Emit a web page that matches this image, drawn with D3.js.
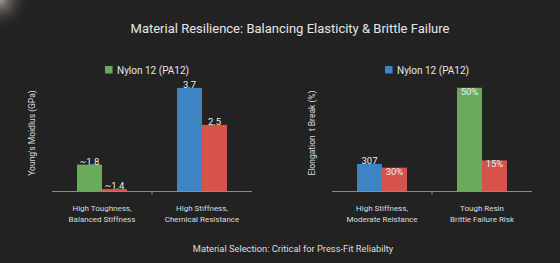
<!DOCTYPE html>
<html>
<head>
<meta charset="utf-8">
<script src="https://cdn.jsdelivr.net/npm/d3@7"></script>
<style>
body{margin:0;background:#222222;}
text{font-family:Roboto,"Noto Sans",sans-serif;}
</style>
</head>
<body>
<script>
// data
var leftCategories = [['High Toughness,','Balanced Stiffness'],['High Stiffness,','Chemical Resistance']];
var leftValues = [[0.96,0.09],[3.7,2.38]];
var leftLabels = [['~1.8','~1.4'],['3.7','2.5']];
var leftColors = [['#6aaa5c','#d6524a'],['#3e83c4','#d6524a']];
var leftLegend = 'Nylon 12 (PA12)';
var leftYTitle = "Young's Moidlus (GPa)";

var rightCategories = [['High Stiffness,','Moderate Reistance'],['Tough Resin','Brittle Failure Risk']];
var rightValues = [[13.3,11.5],[50,15]];
var rightLabels = [['307','30%'],['50%','15%']];
var rightColors = [['#3e83c4','#d6524a'],['#6aaa5c','#d6524a']];
var rightLegend = 'Nylon 12 (PA12)';
var rightYTitle = 'Elongation  t Break (%)';

var chartTitle = 'Material Resilience: Balancing Elasticity & Brittle Failure';
var bottomTitle = 'Material Selection: Critical for Press-Fit Reliabilty';

var width = 560, height = 263;
var svg = d3.select('body').append('svg').attr('width',width).attr('height',height);

var defs = svg.append('defs');
var glow = defs.append('radialGradient').attr('id','glow').attr('cx',0).attr('cy',0).attr('r',1);
glow.append('stop').attr('offset','0%').attr('stop-color','#cfc7b8').attr('stop-opacity',0.75);
glow.append('stop').attr('offset','100%').attr('stop-color','#222').attr('stop-opacity',0);
svg.append('rect').attr('width',width).attr('height',height).attr('fill','#222222');
svg.append('rect').attr('width',30).attr('height',30).attr('fill','url(#glow)');

svg.append('text').attr('x',290).attr('y',33).attr('text-anchor','middle')
	.attr('fill','#e6e6e6').style('font-size','13px').text(chartTitle);
svg.append('text').attr('x',293).attr('y',251.5).attr('text-anchor','middle')
	.attr('fill','#dddddd').style('font-size','9.3px').text(bottomTitle);

function buildPanel(x0,categories,values,labels,colors,yMax,legendText,legendColor,yTitle,insideLabels) {
	var g = svg.append('g');
	var xScale = d3.scaleBand().domain(d3.range(categories.length)).range([x0,x0+200]).paddingInner(0.5).paddingOuter(0.25);
	var yScale = d3.scaleLinear().domain([0,yMax]).range([191.5,79.5]);
	var sub = d3.scaleBand().domain([0,1]).range([0,xScale.bandwidth()]);

	var groups = g.selectAll('.grp').data(values).enter().append('g')
		.attr('transform',function(d,i){return 'translate('+xScale(i)+',0)';});
	groups.selectAll('rect').data(function(d,i){return d.map(function(v,j){return {v:v,i:i,j:j};});}).enter()
		.append('rect')
		.attr('x',function(d){return sub(d.j);})
		.attr('y',function(d){return yScale(d.v);})
		.attr('width',sub.bandwidth())
		.attr('height',function(d){return yScale(0)-yScale(d.v);})
		.attr('fill',function(d){return colors[d.i][d.j];});
	groups.selectAll('text').data(function(d,i){return d.map(function(v,j){return {v:v,i:i,j:j};});}).enter()
		.append('text')
		.attr('x',function(d){return sub(d.j)+sub.bandwidth()/2;})
		.attr('y',function(d){return yScale(d.v)+(insideLabels[d.i][d.j] ? 7 : 0.5);})
		.attr('text-anchor','middle')
		.attr('fill','#eeeeee').style('font-size','9.5px')
		.text(function(d){return labels[d.i][d.j];});

	//Axis
	var xAxis = d3.axisBottom(xScale).tickSize(0).tickFormat('');
	var axisG = g.append('g').attr('transform','translate(0,'+yScale(0)+')').call(xAxis);
	axisG.select('.domain').attr('stroke','#8a8a8a').attr('d','M'+x0+',0H'+(x0+200));
	var sep = (xScale(0)+xScale.bandwidth()+xScale(1))/2;
	axisG.append('line').attr('x1',sep).attr('x2',sep).attr('y1',0).attr('y2',3).attr('stroke','#8a8a8a');
	categories.forEach(function(c,i){
		var t = g.append('text').attr('text-anchor','middle').attr('fill','#dddddd').style('font-size','8px');
		c.forEach(function(line,k){
			t.append('tspan').attr('x',xScale(i)+xScale.bandwidth()/2).attr('y',211+k*10.5).text(line);
		});
	});

	//Legend
	var lx = x0+53;
	g.append('rect').attr('x',lx).attr('y',66).attr('width',7.5).attr('height',7.5).attr('fill',legendColor);
	g.append('text').attr('x',lx+12).attr('y',73.5).attr('fill','#e6e6e6').style('font-size','10px').text(legendText);

	g.append('text').attr('transform','translate('+(x0-17)+',133) rotate(-90)')
		.attr('text-anchor','middle').attr('fill','#dddddd').style('font-size','8.5px')
		.style('white-space','pre').text(yTitle);
}

buildPanel(52,leftCategories,leftValues,leftLabels,leftColors,4,leftLegend,'#6aaa5c',leftYTitle,[[false,false],[false,false]]);
buildPanel(332,rightCategories,rightValues,rightLabels,rightColors,54,rightLegend,'#3e83c4',rightYTitle,[[false,true],[true,true]]);
</script>
</body>
</html>
